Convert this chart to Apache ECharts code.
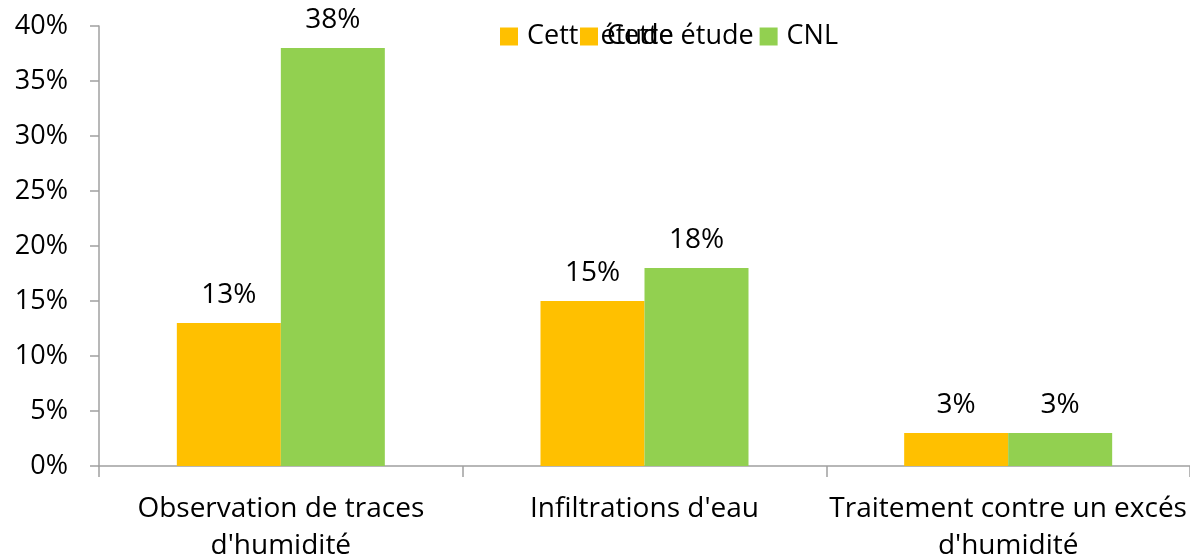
<!DOCTYPE html>
<html><head><meta charset="utf-8">
<script src="https://cdn.jsdelivr.net/npm/echarts@6/dist/echarts.min.js"></script>
<style>html,body{margin:0;padding:0;background:#fff}#c{width:1190px;height:558px}</style>
</head><body><div id="c"></div>
<script>
const categories = ["Observation de traces\nd'humidité", "Infiltrations d'eau", "Traitement contre un excés\nd'humidité"];
const cetteEtude = [13, 15, 3];
const cnl = [38, 18, 3];
const seriesNames = ['Cette étude', 'CNL'];
const FONT = 'Open Sans';
const chart = echarts.init(document.getElementById('c'));
chart.setOption({
  animation: false,
  textStyle: {fontFamily: FONT},
  legend: [
    {left: 495, top: 18, itemWidth: 18, itemHeight: 18, itemGap: 6, icon: 'rect',
     data: [seriesNames[0]], textStyle: {fontFamily: FONT, fontSize: 27, color: '#000', padding: [0,0,0,4]}},
    {left: 575, top: 18, itemWidth: 18, itemHeight: 18, itemGap: 6, icon: 'rect',
     data: seriesNames, textStyle: {fontFamily: FONT, fontSize: 27, color: '#000', padding: [0,0,0,4]}}
  ],
  grid: {left: 99, right: 0, top: 26, bottom: 92, containLabel: false, outerBoundsMode: 'none'},
  xAxis: {
    type: 'category', data: categories,
    axisLine: {lineStyle: {color: '#a0a0a0', width: 1.5}},
    axisTick: {show: true, length: 11, lineStyle: {color: '#a0a0a0', width: 1.5}},
    axisLabel: {fontSize: 28, color: '#000', margin: 25, lineHeight: 37, interval: 0, fontFamily: FONT}
  },
  yAxis: {
    type: 'value', min: 0, max: 40, interval: 5,
    splitLine: {show: false},
    axisLine: {show: true, lineStyle: {color: '#a0a0a0', width: 1.5}},
    axisTick: {show: true, length: 9, lineStyle: {color: '#a0a0a0', width: 1.5}},
    axisLabel: {formatter: '{value}%', fontSize: 27, color: '#000', margin: 31, fontFamily: FONT}
  },
  series: [
    {name: seriesNames[0], type: 'bar', data: cetteEtude, barWidth: 104, barGap: '0%',
     itemStyle: {color: '#FFC000'},
     label: {show: true, position: 'top', distance: 14, formatter: '{c}%', fontSize: 28, color: '#000', fontFamily: FONT}},
    {name: seriesNames[1], type: 'bar', data: cnl, barWidth: 104, barGap: '0%',
     itemStyle: {color: '#92D050'},
     label: {show: true, position: 'top', distance: 14, formatter: '{c}%', fontSize: 28, color: '#000', fontFamily: FONT}}
  ]
});
</script></body></html>
